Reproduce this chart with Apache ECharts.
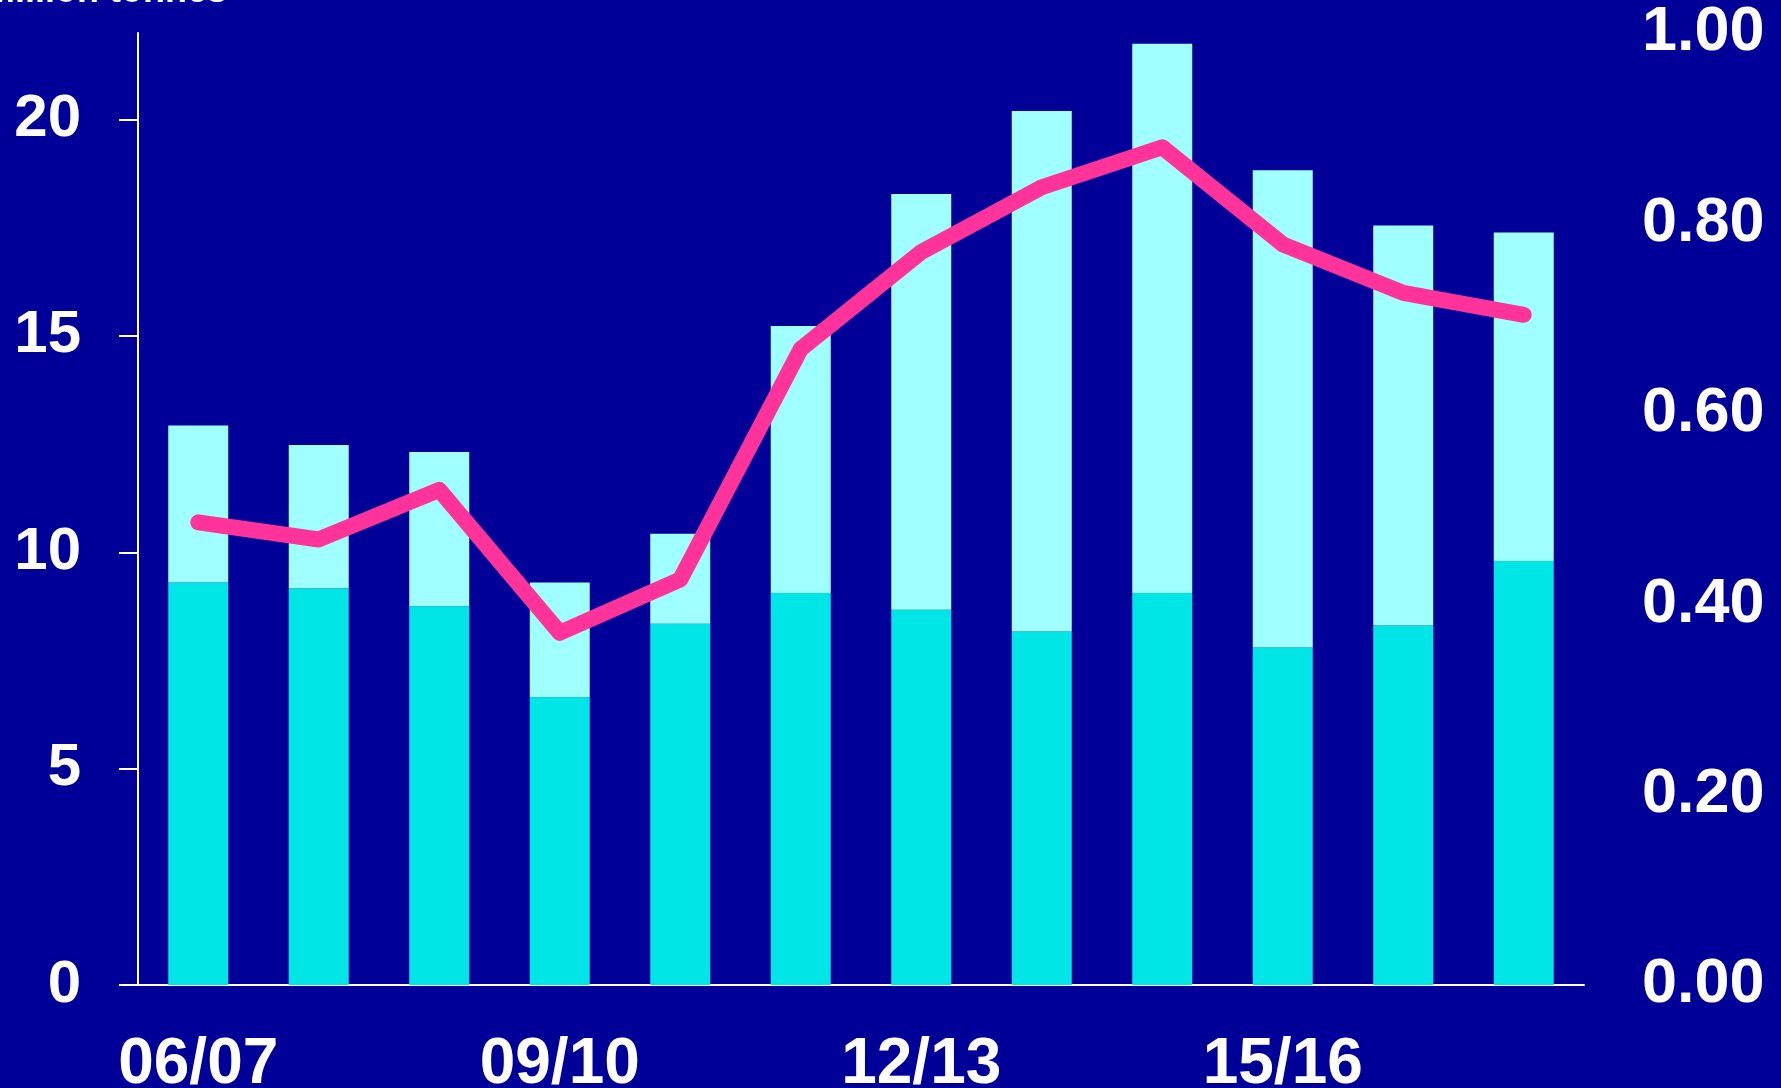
<!DOCTYPE html>
<html>
<head>
<meta charset="utf-8">
<script src="https://cdn.jsdelivr.net/npm/echarts@6/dist/echarts.min.js"></script>
<style>
    html, body { margin: 0; padding: 0; background: #000099; }
    #chart { width: 1781px; height: 1088px; }
</style>
</head>
<body>
<div id="chart"></div>
<script>
var categories = ["06/07", "07/08", "08/09", "09/10", "10/11", "11/12", "12/13", "13/14", "14/15", "15/16", "16/17", "17/18"];
// lower (dark cyan) part of each bar, million tonnes
var baseValues = [9.3, 9.17, 8.75, 6.65, 8.35, 9.06, 8.67, 8.17, 9.06, 7.8, 8.31, 9.8];
// upper (light cyan) part of each bar, million tonnes
var topValues = [3.63, 3.31, 3.57, 2.65, 2.08, 6.17, 9.61, 12.03, 12.69, 11.03, 9.24, 7.59];
// pink line, right axis
var ratioValues = [0.486, 0.468, 0.52, 0.37, 0.426, 0.668, 0.77, 0.838, 0.88, 0.778, 0.727, 0.704];
var leftTicks = [0, 5, 10, 15, 20];

(function() {
    var boldFont = "'Liberation Sans', Arial, sans-serif";

    var option = {
        backgroundColor: "#000099",
        animation: false,
        grid: {
            left: 138,
            right: 197,
            top: 33,
            bottom: 103,
            containLabel: false,
            outerBoundsMode: "none"
        },
        // axis title, mostly cut off by the top edge
        graphic: [{
            type: "text",
            right: 1554,
            bottom: 1078,
            style: {
                text: "Million tonnes",
                fill: "#ffffff",
                font: "bold 36px " + boldFont
            }
        }],
        xAxis: {
            type: "category",
            data: categories,
            axisLine: {
                lineStyle: {
                    color: "#ffffff",
                    width: 2
                }
            },
            axisTick: {
                show: false
            },
            axisLabel: {
                interval: 2,
                margin: 48,
                color: "#ffffff",
                fontFamily: boldFont,
                fontWeight: "bold",
                fontSize: 64
            }
        },
        yAxis: [{
            type: "value",
            min: 0,
            max: 22,
            interval: 5,
            splitLine: {
                show: false
            },
            axisLine: {
                show: true,
                lineStyle: {
                    color: "#ffffff",
                    width: 2
                }
            },
            axisTick: {
                show: true,
                length: 19,
                customValues: leftTicks,
                lineStyle: {
                    color: "#ffffff",
                    width: 2
                }
            },
            axisLabel: {
                customValues: leftTicks,
                margin: 57,
                color: "#ffffff",
                fontFamily: boldFont,
                fontWeight: "bold",
                fontSize: 60
            }
        },
        {
            type: "value",
            min: 0,
            max: 1,
            interval: 0.2,
            position: "right",
            splitLine: {
                show: false
            },
            axisLine: {
                show: false
            },
            axisTick: {
                show: false
            },
            axisLabel: {
                margin: 58,
                color: "#ffffff",
                fontFamily: boldFont,
                fontWeight: "bold",
                fontSize: 63,
                formatter: function(v) {
                    return v.toFixed(2)
                }
            }
        }],
        series: [{
            name: "base",
            type: "bar",
            stack: "total",
            barWidth: 60,
            itemStyle: {
                color: "#00E6E6"
            },
            data: baseValues
        },
        {
            name: "top",
            type: "bar",
            stack: "total",
            barWidth: 60,
            itemStyle: {
                color: "#A0FFFF"
            },
            data: topValues
        },
        {
            name: "ratio",
            type: "line",
            yAxisIndex: 1,
            symbol: "none",
            lineStyle: {
                color: "#FF3399",
                width: 16,
                cap: "round",
                join: "round"
            },
            data: ratioValues
        }]
    };

    var myChart = echarts.init(document.getElementById("chart"));
    myChart.setOption(option);
})();
</script>
</body>
</html>
